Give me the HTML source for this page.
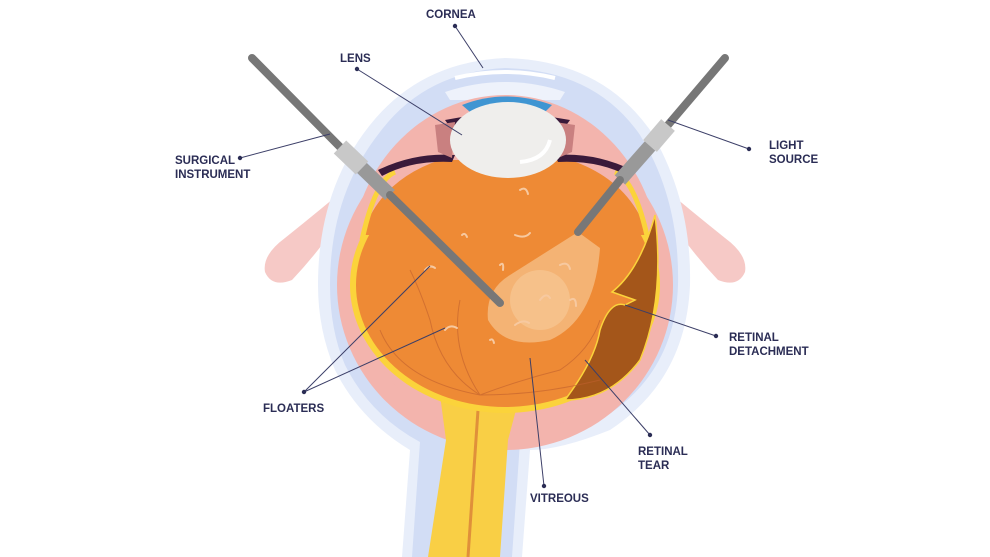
<!DOCTYPE html>
<html><head><meta charset="utf-8"><style>
html,body{margin:0;padding:0;background:#fff;}
svg{display:block}
text{font-family:"Liberation Sans",sans-serif;font-weight:bold;font-size:11.5px;fill:#2b2d55;}
</style></head><body>
<svg width="990" height="557" viewBox="0 0 990 557" xmlns="http://www.w3.org/2000/svg">
<!-- muscles -->
<path d="M352,183 Q320,210 285,238 Q262,255 265,272 Q272,288 292,280 Q325,245 352,202 Z" fill="#f6c9c6"/>
<path d="M658,183 Q690,210 725,238 Q748,255 745,272 Q738,288 718,280 Q685,245 658,202 Z" fill="#f6c9c6"/>
<!-- outer sclera -->
<path d="M505,58 Q600,60 650,130 Q692,200 690,285 Q686,380 610,430 Q560,450 530,450 L522,557 L402,557 L410,450 Q360,420 335,370 Q318,330 318,285 Q318,190 370,125 Q420,62 505,58 Z" fill="#e8eefa"/>
<path d="M505,68 Q595,70 640,135 Q680,200 678,285 Q675,375 600,420 Q560,440 520,442 L512,557 L412,557 L420,442 Q370,415 345,365 Q330,330 330,285 Q330,195 380,132 Q425,72 505,68 Z" fill="#d2ddf5"/>
<path d="M445,92 Q505,72 565,92 L560,100 L450,100Z" fill="#eef2fb"/>
<!-- pink choroid -->
<ellipse cx="505" cy="285" rx="168" ry="165" fill="#f3b4ad"/>
<ellipse cx="505" cy="265" rx="155" ry="170" fill="#f3b4ad"/>
<!-- optic nerve -->
<path d="M440,395 L446,440 L428,557 L500,557 L508,440 L520,395 Z" fill="#f9cf45"/>
<path d="M478,410 L468,557" stroke="#e0903a" stroke-width="3" fill="none"/>
<!-- yellow retina -->
<ellipse cx="505" cy="285" rx="155" ry="128" fill="#fbd33b"/>
<!-- orange -->
<ellipse cx="505" cy="285" rx="149" ry="122" fill="#ee8a35"/>
<path d="M362,235 Q380,180 440,160 L570,160 Q630,180 648,235 Z" fill="#ee8a35"/>
<path d="M362,240 Q375,180 395,172" stroke="#fbd33b" stroke-width="5" fill="none"/>
<path d="M648,240 Q635,180 615,172" stroke="#fbd33b" stroke-width="5" fill="none"/>
<!-- detachment -->
<path d="M655,215 Q665,300 640,360 Q610,400 565,400 Q595,360 600,330 Q610,300 625,305 L635,300 L612,292 Q640,270 655,215 Z" fill="#a4561a" stroke="#fbd33b" stroke-width="1.5"/>
<!-- vessels -->
<g stroke="#c0602e" stroke-width="1" fill="none" opacity="0.6">
<path d="M480,395 Q440,370 430,320 Q420,290 410,270"/>
<path d="M480,395 Q450,350 460,300"/>
<path d="M480,395 Q520,380 560,370 Q590,350 600,320"/>
<path d="M480,395 Q400,380 380,330"/>
<path d="M480,395 Q540,395 600,380"/>
</g>
<!-- cornea/iris -->
<path d="M455,78 Q505,66 555,78" stroke="#fff" stroke-width="4" fill="none"/>
<path d="M462,105 Q505,88 552,105 L545,112 L470,112 Z" fill="#3f95d2"/>
<path d="M445,120 Q505,108 570,120 L565,127 L450,127Z" fill="#3a1a3a"/>
<path d="M378,170 Q415,152 455,155 L452,162 Q412,160 382,176Z" fill="#3a1a3a"/>
<path d="M632,170 Q595,152 555,155 L558,162 Q598,160 628,176Z" fill="#3a1a3a"/>
<path d="M435,125 L455,122 L452,158 L438,152Z" fill="#c98080"/>
<path d="M575,125 L555,122 L558,158 L572,152Z" fill="#c98080"/>
<!-- lens -->
<ellipse cx="508" cy="140" rx="58" ry="38" fill="#efeeec"/>
<path d="M520,162 Q545,160 550,140" stroke="#fff" stroke-width="4" fill="none"/>
<!-- light cone -->
<path d="M578,232 L600,248 Q595,320 550,340 Q505,350 488,320 Q485,290 510,275 Z" fill="#f9d6a8" opacity="0.55"/>
<circle cx="540" cy="300" r="30" fill="#fbe0bd" opacity="0.3"/>
<!-- floaters -->
<g stroke="#f7c9a0" stroke-width="2" fill="none" stroke-linecap="round">
<path d="M425,270 q5,-6 10,-2"/><path d="M445,330 q5,-6 12,-2"/><path d="M520,190 q6,-4 8,4"/>
<path d="M515,235 q10,4 15,-2"/><path d="M500,265 q4,-4 3,5"/><path d="M560,265 q8,-4 10,4"/>
<path d="M540,300 q6,-8 10,-2"/><path d="M515,325 q8,-6 14,-2"/><path d="M570,300 q6,-4 6,6"/>
<path d="M462,235 q3,-3 5,2"/><path d="M490,340 q3,-2 4,3"/>
</g>
<!-- instruments -->
<g stroke-linecap="round">
<line x1="252" y1="58" x2="345" y2="152" stroke="#777" stroke-width="8"/>
<line x1="340" y1="147" x2="362" y2="168" stroke="#c8c8c8" stroke-width="18" stroke-linecap="butt"/>
<line x1="362" y1="168" x2="390" y2="195" stroke="#999" stroke-width="14" stroke-linecap="butt"/>
<line x1="390" y1="195" x2="500" y2="303" stroke="#777" stroke-width="8"/>
<line x1="725" y1="58" x2="668" y2="125" stroke="#777" stroke-width="8"/>
<line x1="668" y1="125" x2="650" y2="146" stroke="#c8c8c8" stroke-width="18" stroke-linecap="butt"/>
<line x1="650" y1="146" x2="620" y2="180" stroke="#999" stroke-width="14" stroke-linecap="butt"/>
<line x1="620" y1="180" x2="578" y2="232" stroke="#777" stroke-width="8"/>
</g>
<!-- leaders -->
<g stroke="#3c3f68" stroke-width="1" fill="none">
<path d="M455,26 L483,68"/><path d="M357,69 L462,135"/><path d="M240,158 L330,134"/>
<path d="M749,149 L668,120"/><path d="M716,336 L625,305"/><path d="M304,392 L430,266"/>
<path d="M304,392 L445,328"/><path d="M650,435 L585,360"/><path d="M544,486 L530,358"/>
</g>
<g fill="#2b2d55">
<circle cx="455" cy="26" r="2.2"/><circle cx="357" cy="69" r="2.2"/><circle cx="240" cy="158" r="2.2"/>
<circle cx="749" cy="149" r="2.2"/><circle cx="716" cy="336" r="2.2"/><circle cx="304" cy="392" r="2.2"/>
<circle cx="650" cy="435" r="2.2"/><circle cx="544" cy="486" r="2.2"/>
</g>
<text x="426" y="18">CORNEA</text>
<text x="340" y="62">LENS</text>
<text x="175" y="164">SURGICAL</text><text x="175" y="178">INSTRUMENT</text>
<text x="769" y="149">LIGHT</text><text x="769" y="163">SOURCE</text>
<text x="729" y="341">RETINAL</text><text x="729" y="355">DETACHMENT</text>
<text x="263" y="412">FLOATERS</text>
<text x="638" y="455">RETINAL</text><text x="638" y="469">TEAR</text>
<text x="530" y="502">VITREOUS</text>
</svg>
</body></html>
